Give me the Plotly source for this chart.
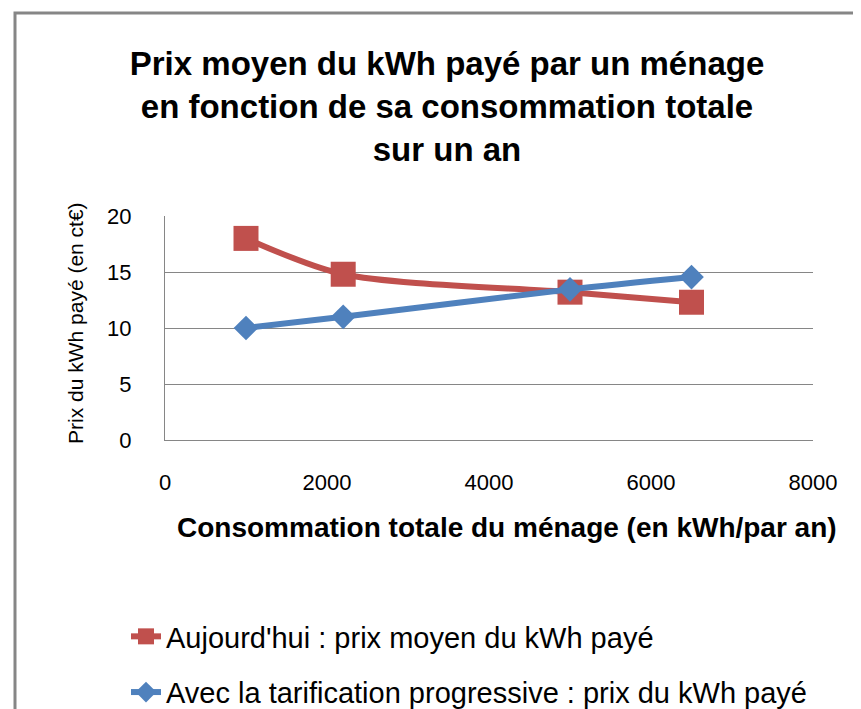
"""Prix moyen du kWh payé en fonction de la consommation totale."""

import plotly.graph_objects as go

FONT = "Liberation Sans, Arial, sans-serif"

# données
conso_kwh = [1000, 2200, 5000, 6500]
prix_aujourdhui = [18.0, 14.8, 13.2, 12.3]
prix_progressif = [10.0, 11.0, 13.45, 14.55]

nom_aujourdhui = "Aujourd'hui : prix moyen du kWh payé"
nom_progressif = "Avec la tarification progressive : prix du kWh payé"

x_ticks = [0, 2000, 4000, 6000, 8000]
y_ticks = [0, 5, 10, 15, 20]

# the page body has an 8px margin, so the figure is a bit smaller than the window
W, H = 853, 701

fig = go.Figure()

fig.add_trace(go.Scatter(
    x=conso_kwh, y=prix_aujourdhui,
    mode="lines+markers", name=nom_aujourdhui,
    line=dict(color="#C0504D", width=6, shape="spline", smoothing=0.8),
    marker=dict(symbol="square", size=25, color="#C0504D"),
    legendgroup="a",
))
fig.add_trace(go.Scatter(
    x=conso_kwh, y=prix_progressif,
    mode="lines+markers", name=nom_progressif,
    line=dict(color="#4F81BD", width=6, shape="spline", smoothing=0.8),
    marker=dict(symbol="diamond", size=19, color="#4F81BD"),
    legendgroup="b",
))

# cadre gris de la zone du graphique
fig.add_shape(
    type="rect", xref="paper", yref="paper",
    x0=(15 - 165) / 648, x1=(900 - 165) / 648,
    y0=(440 - 760) / 224, y1=(440 - 13) / 224,
    line=dict(color="#868686", width=3), layer="below",
)

# titres des axes
fig.add_annotation(
    text="<b>Consommation totale du ménage (en kWh/par an)</b>",
    xref="paper", yref="paper",
    x=(507 - 165) / 648, y=(440 - 527) / 224,
    xanchor="center", yanchor="middle", showarrow=False,
    font=dict(size=28, family=FONT),
)
fig.add_annotation(
    text="Prix du kWh payé (en ct€)",
    xref="paper", yref="paper",
    x=(75 - 165) / 648, y=(440 - 323) / 224,
    xanchor="center", yanchor="middle", showarrow=False, textangle=-90,
    font=dict(size=21, family=FONT),
)

fig.update_layout(
    width=W, height=H,
    margin=dict(l=157, r=48, t=208, b=269, autoexpand=False),
    paper_bgcolor="white", plot_bgcolor="white",
    font=dict(family=FONT, color="black"),
    title=dict(
        text="<b>Prix moyen du kWh payé par un ménage<br>"
             "en fonction de sa consommation totale<br>sur un an</b>",
        x=439 / W, xanchor="center", xref="container",
        y=1 - 67 / H, yanchor="top", yref="container",
        font=dict(size=33, family=FONT),
    ),
    showlegend=True,
    legend=dict(
        x=(126 - 165) / 648, xanchor="left",
        y=(440 - 611) / 224, yanchor="top",
        font=dict(size=29, family=FONT),
        tracegroupgap=15, traceorder="grouped",
        bgcolor="rgba(0,0,0,0)",
    ),
)

fig.update_xaxes(
    range=[0, 8000], tickvals=x_ticks,
    showgrid=False, zeroline=False,
    showline=True, linecolor="#868686", linewidth=1,
    tickfont=dict(size=22), ticks="outside", ticklen=23,
    tickcolor="rgba(0,0,0,0)",
)
fig.update_yaxes(
    range=[0, 20], tickvals=y_ticks,
    showgrid=True, gridcolor="#868686", gridwidth=1,
    zeroline=False, showline=True, linecolor="#868686", linewidth=1,
    tickfont=dict(size=22), ticks="outside", ticklen=28,
    tickcolor="rgba(0,0,0,0)",
)

fig.write_html("out.html")
